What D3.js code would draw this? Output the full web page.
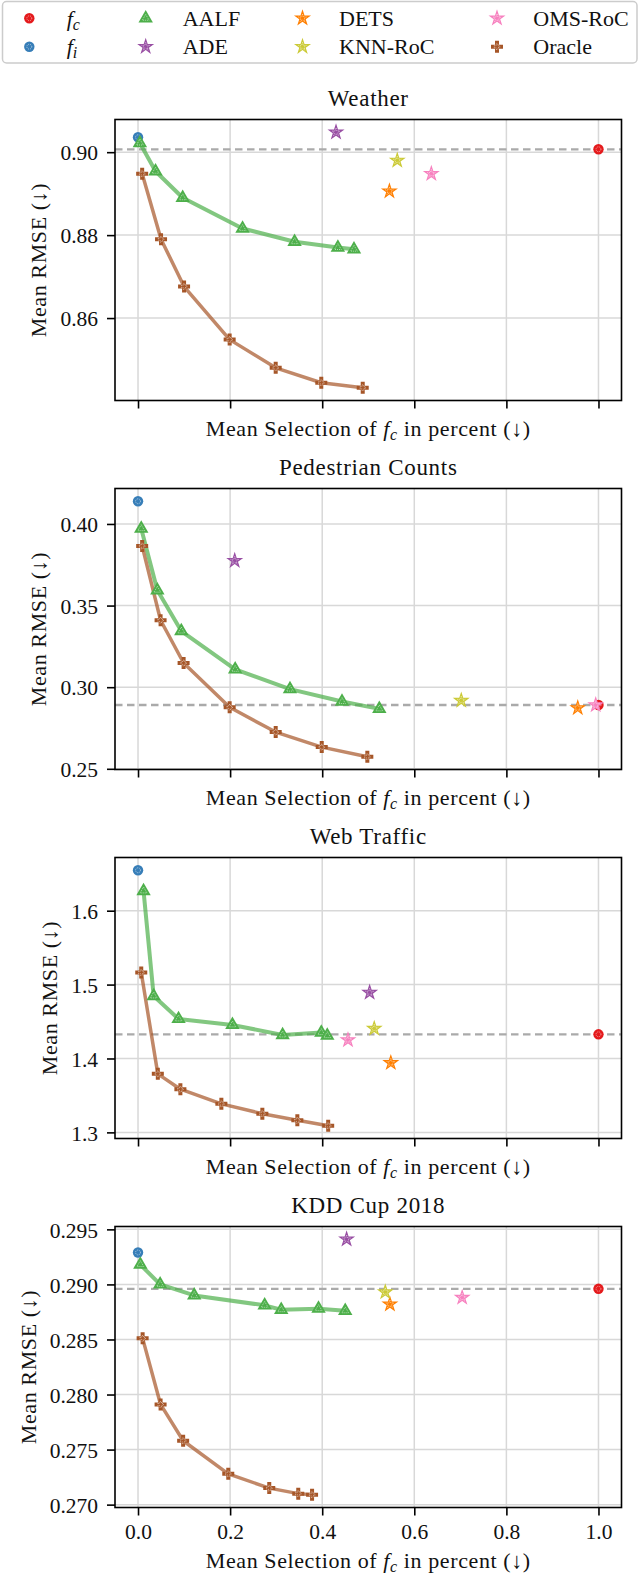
<!DOCTYPE html>
<html>
<head>
<meta charset="utf-8">
<script src="https://cdn.jsdelivr.net/npm/d3@7"></script>
<style>
  body { margin: 0; background: #fff; }
  svg text { font-family: "Liberation Serif", "Times New Roman", "DejaVu Serif", serif; fill: #111; }
</style>
</head>
<body>
<div id="chart"></div>
<script>
// legend order (column-major, 4 columns x 2 rows)
var methods = ["fc", "fi", "AALF", "ADE", "DETS", "KNN-RoC", "OMS-RoC", "Oracle"];
var colors  = ["#e41a1c", "#377eb8", "#4daf4a", "#984ea3", "#ff7f00", "#cbca36", "#f781bf", "#a65628"];
var shapes  = ["circle", "circle", "triangle", "star", "star", "star", "star", "cross"];

var titles = ["Weather", "Pedestrian Counts", "Web Traffic", "KDD Cup 2018"];
var xTicks = [0, 0.2, 0.4, 0.6, 0.8, 1.0];

// single points are in order: fc, fi, ADE, DETS, KNN-RoC, OMS-RoC
var weatherAALF   = [[0.004, 0.9022], [0.038, 0.8954], [0.097, 0.8890], [0.227, 0.8816], [0.340, 0.8784], [0.434, 0.8770], [0.469, 0.8766]];
var weatherOracle = [[0.009, 0.8948], [0.050, 0.8790], [0.100, 0.8676], [0.199, 0.8548], [0.299, 0.8480], [0.398, 0.8444], [0.488, 0.8432]];
var weatherSingle = [[1.0, 0.9007], [0.0, 0.9036], [0.430, 0.9048], [0.546, 0.8906], [0.563, 0.8980], [0.637, 0.8948]];
var weatherTicks  = [0.86, 0.88, 0.90];

var pedAALF   = [[0.007, 0.3971], [0.042, 0.3594], [0.094, 0.3344], [0.211, 0.3109], [0.330, 0.2988], [0.443, 0.2912], [0.524, 0.2867]];
var pedOracle = [[0.009, 0.3865], [0.049, 0.3410], [0.099, 0.3148], [0.199, 0.2877], [0.299, 0.2725], [0.399, 0.2633], [0.498, 0.2574]];
var pedSingle = [[1.0, 0.2891], [0.0, 0.4139], [0.210, 0.3775], [0.955, 0.2873], [0.702, 0.2918], [0.994, 0.2891]];
var pedTicks  = [0.25, 0.30, 0.35, 0.40];

var webAALF   = [[0.012, 1.6267], [0.034, 1.4846], [0.088, 1.4535], [0.205, 1.4454], [0.314, 1.4318], [0.398, 1.4350], [0.411, 1.4309]];
var webOracle = [[0.007, 1.5163], [0.043, 1.3792], [0.092, 1.3584], [0.181, 1.3386], [0.270, 1.3253], [0.346, 1.3163], [0.413, 1.3090]];
var webSingle = [[1.0, 1.4327], [0.0, 1.6547], [0.503, 1.4892], [0.549, 1.3941], [0.513, 1.4404], [0.456, 1.4250]];
var webTicks  = [1.3, 1.4, 1.5, 1.6];

var kddAALF   = [[0.005, 0.2918], [0.048, 0.2900], [0.122, 0.2890], [0.275, 0.2881], [0.311, 0.2877], [0.392, 0.2878], [0.450, 0.2876]];
var kddOracle = [[0.010, 0.2851], [0.049, 0.2791], [0.098, 0.2758], [0.196, 0.2728], [0.285, 0.2715], [0.348, 0.2710], [0.378, 0.2709]];
var kddSingle = [[1.0, 0.2896], [0.0, 0.2929], [0.453, 0.2941], [0.547, 0.2882], [0.537, 0.2893], [0.704, 0.2888]];
var kddTicks  = [0.270, 0.275, 0.280, 0.285, 0.290, 0.295];

var panels = [
  {aalf: weatherAALF, oracle: weatherOracle, single: weatherSingle, ticks: weatherTicks, fmt: ".2f"},
  {aalf: pedAALF, oracle: pedOracle, single: pedSingle, ticks: pedTicks, fmt: ".2f"},
  {aalf: webAALF, oracle: webOracle, single: webSingle, ticks: webTicks, fmt: ".1f"},
  {aalf: kddAALF, oracle: kddOracle, single: kddSingle, ticks: kddTicks, fmt: ".3f"}
];

var W = 640, H = 1573;
var left = 115, right = 621.5, plotH = 281, firstTop = 119.5, step = 369;
var serif = "'Liberation Serif', 'Times New Roman', 'DejaVu Serif', serif";

var svg = d3.select("#chart").append("svg")
  .attr("width", W).attr("height", H)
  .style("background", "#fff");

var symbolType = {circle: d3.symbolCircle, triangle: d3.symbolTriangle, star: d3.symbolStar, cross: d3.symbolCross};
var symbolSize = {circle: 85, triangle: 90, star: 90, cross: 80};

function marker(g, shape, color, x, y) {
  var t = symbolType[shape], s = symbolSize[shape];
  g.append("path")
    .attr("d", d3.symbol().type(t).size(s)())
    .attr("transform", "translate(" + x + "," + y + ")")
    .attr("fill", color);
  // small white dashed detail inside the marker
  g.append("path")
    .attr("d", d3.symbol().type(t).size(s * 0.22)())
    .attr("transform", "translate(" + x + "," + y + ")")
    .attr("fill", "none")
    .attr("stroke", "#fff")
    .attr("stroke-width", 0.7)
    .attr("stroke-dasharray", "1,1")
    .attr("opacity", 0.8);
}

// f_c style math label
function mathF(textSel, sub, size) {
  textSel.append("tspan").attr("font-style", "italic").text("f");
  textSel.append("tspan").attr("font-style", "italic")
    .attr("font-size", size).attr("dy", 4).text(sub);
}

// ---- legend ----
var leg = svg.append("g");
leg.append("rect")
  .attr("x", 2.5).attr("y", 1.5).attr("width", 634.5).attr("height", 61.5)
  .attr("rx", 4).attr("fill", "#fff")
  .attr("stroke", "#cccccc").attr("stroke-width", 1.5);

var colMarkerX = [29.3, 145.7, 302.5, 497];
var colTextX = [66.7, 182.7, 339, 533.3];
var rowY = [18.3, 46.7];

methods.forEach(function(m, i) {
  var c = Math.floor(i / 2), r = i % 2;
  marker(leg, shapes[i], colors[i], colMarkerX[c], rowY[r]);
  var t = leg.append("text")
    .attr("x", colTextX[c]).attr("y", rowY[r] + 7.5)
    .attr("font-size", 22).style("font-family", serif);
  if (m === "fc" || m === "fi") {
    mathF(t, m.slice(1), 16);
  } else {
    t.text(m);
  }
});

// ---- panels ----
panels.forEach(function(p, i) {
  var top = firstTop + i * step, bottom = top + plotH;
  var g = svg.append("g");

  var allY = p.aalf.concat(p.oracle, p.single).map(function(d) { return d[1]; });
  var yMin = d3.min(allY), yMax = d3.max(allY), pad = (yMax - yMin) * 0.05;

  var x = d3.scaleLinear().domain([-0.05, 1.05]).range([left, right]);
  var y = d3.scaleLinear().domain([yMin - pad, yMax + pad]).range([bottom, top]);

  // grid
  g.selectAll(".vg").data(xTicks).enter().append("line")
    .attr("x1", function(d) { return x(d); }).attr("x2", function(d) { return x(d); })
    .attr("y1", top).attr("y2", bottom)
    .attr("stroke", "#d8d8d8").attr("stroke-width", 1.5);
  g.selectAll(".hg").data(p.ticks).enter().append("line")
    .attr("x1", left).attr("x2", right)
    .attr("y1", function(d) { return y(d); }).attr("y2", function(d) { return y(d); })
    .attr("stroke", "#d8d8d8").attr("stroke-width", 1.5);

  // dashed reference at f_c
  g.append("line")
    .attr("x1", left).attr("x2", right)
    .attr("y1", y(p.single[0][1])).attr("y2", y(p.single[0][1]))
    .attr("stroke", "#aaaaaa").attr("stroke-width", 2.3)
    .attr("stroke-dasharray", "7.5,4.5");

  // axes
  var yAxis = g.append("g")
    .attr("transform", "translate(" + left + ",0)")
    .call(d3.axisLeft(y).tickValues(p.ticks).tickFormat(d3.format(p.fmt)).tickSize(8).tickPadding(9));
  var xAxis = g.append("g")
    .attr("transform", "translate(0," + bottom + ")")
    .call(d3.axisBottom(x).tickValues(xTicks).tickFormat(d3.format(".1f")).tickSize(8).tickPadding(8));
  [xAxis, yAxis].forEach(function(a) {
    a.attr("font-family", null);
    a.select(".domain").remove();
    a.selectAll(".tick line").attr("stroke", "#000").attr("stroke-width", 1.6);
    a.selectAll("text").attr("font-size", 21.5).attr("fill", "#111")
      .style("font-family", serif);
  });
  yAxis.selectAll("text").attr("dy", "0.36em");
  if (i < panels.length - 1) xAxis.selectAll("text").remove();

  // frame
  g.append("rect")
    .attr("x", left).attr("y", top).attr("width", right - left).attr("height", plotH)
    .attr("fill", "none").attr("stroke", "#000").attr("stroke-width", 1.6);

  // lines
  var line = d3.line().x(function(d) { return x(d[0]); }).y(function(d) { return y(d[1]); });
  g.append("path").datum(p.aalf).attr("d", line)
    .attr("fill", "none").attr("stroke", colors[2]).attr("stroke-opacity", 0.7)
    .attr("stroke-width", 4).attr("stroke-linejoin", "round");
  g.append("path").datum(p.oracle).attr("d", line)
    .attr("fill", "none").attr("stroke", colors[7]).attr("stroke-opacity", 0.7)
    .attr("stroke-width", 3.5).attr("stroke-linejoin", "round");

  // markers in legend order
  var singleIdx = [0, 1, 3, 4, 5, 6];
  [0, 1].forEach(function(k) {
    marker(g, shapes[k], colors[k], x(p.single[k][0]), y(p.single[k][1]));
  });
  p.aalf.forEach(function(d) { marker(g, shapes[2], colors[2], x(d[0]), y(d[1])); });
  [2, 3, 4, 5].forEach(function(k) {
    var mi = singleIdx[k];
    marker(g, shapes[mi], colors[mi], x(p.single[k][0]), y(p.single[k][1]));
  });
  p.oracle.forEach(function(d) { marker(g, shapes[7], colors[7], x(d[0]), y(d[1])); });

  // title
  g.append("text")
    .attr("x", (left + right) / 2).attr("y", top - 14)
    .attr("text-anchor", "middle").attr("font-size", 23)
    .attr("letter-spacing", 0.7).style("font-family", serif)
    .text(titles[i]);

  // x label
  var xl = g.append("text")
    .attr("x", (left + right) / 2)
    .attr("y", bottom + (i < panels.length - 1 ? 35 : 60))
    .attr("text-anchor", "middle").attr("font-size", 22)
    .attr("letter-spacing", 0.6).style("font-family", serif);
  xl.append("tspan").text("Mean Selection of ");
  mathF(xl, "c", 16);
  xl.append("tspan").attr("dy", -4).text(" in percent (\u2193)");

  // y label, placed left of the tick labels
  var bb = yAxis.node().getBBox();
  var lx = left + bb.x - 14;
  g.append("text")
    .attr("transform", "translate(" + lx + "," + ((top + bottom) / 2) + ") rotate(-90)")
    .attr("text-anchor", "middle").attr("font-size", 22)
    .attr("letter-spacing", 0.6).style("font-family", serif)
    .text("Mean RMSE (\u2193)");
});
</script>
</body>
</html>
